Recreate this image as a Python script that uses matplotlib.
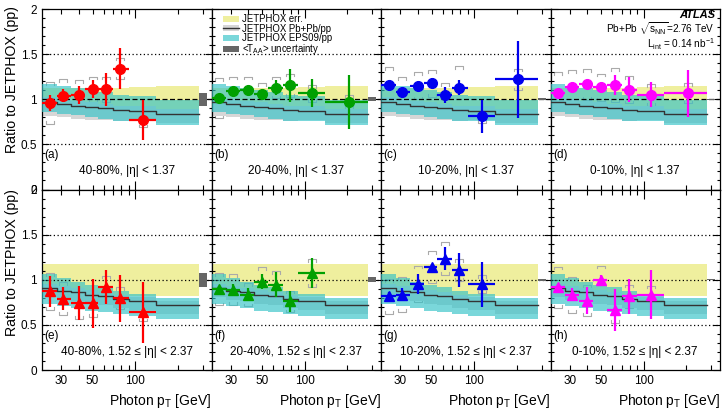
import matplotlib.pyplot as plt
import numpy as np
from matplotlib.patches import Patch
from matplotlib.lines import Line2D
from matplotlib.ticker import FixedLocator, FixedFormatter, MultipleLocator

plt.rcParams['font.family'] = ['Liberation Sans', 'DejaVu Sans']
plt.rcParams['mathtext.fontset'] = 'custom'
plt.rcParams['mathtext.rm'] = 'Liberation Sans'
plt.rcParams['mathtext.it'] = 'Liberation Sans:italic'
plt.rcParams['mathtext.bf'] = 'Liberation Sans:bold'
plt.rcParams['mathtext.default'] = 'regular'

# photon pT bins [GeV] and point positions
pt_edges = [22, 28, 35, 44, 55, 70, 90, 140, 280]
pt_points = [24.9, 31.1, 39.8, 50, 62.5, 78.6, 113, 205]

centralities = ['40-80%', '20-40%', '10-20%', '0-10%']
eta_labels = ['|\u03b7| < 1.37', '1.52 \u2264 |\u03b7| < 2.37']
panel_letters = ['a', 'b', 'c', 'd', 'e', 'f', 'g', 'h']
colors = ['#ff0000', '#00a000', '#0000ee', '#ff00ff']

# ratio data, |eta| < 1.37
ratio_a = [0.96, 1.04, 1.05, 1.11, 1.11, 1.34, 0.77]
stat_a = [0.09, 0.07, 0.10, 0.10, 0.18, 0.23, 0.22]
sys_a = [0.23, 0.18, 0.16, 0.14, 0.14, 0.12, 0.08]

ratio_b = [1.015, 1.09, 1.10, 1.06, 1.13, 1.155, 1.065, 0.97]
stat_b = [0.03, 0.04, 0.04, 0.05, 0.08, 0.185, 0.155, 0.30]
sys_b = [0.22, 0.16, 0.15, 0.12, 0.12, 0.13, 0.09, 0.075]

ratio_c = [1.155, 1.075, 1.15, 1.175, 1.045, 1.13, 0.81, 1.22]
stat_c = [0.03, 0.03, 0.04, 0.055, 0.09, 0.085, 0.18, 0.43]
sys_c = [0.20, 0.17, 0.15, 0.15, 0.13, 0.24, 0.07, 0.12]

ratio_d = [1.07, 1.135, 1.165, 1.135, 1.155, 1.105, 1.05, 1.065]
stat_d = [0.03, 0.03, 0.03, 0.04, 0.11, 0.14, 0.14, 0.26]
sys_d = [0.23, 0.19, 0.17, 0.15, 0.19, 0.15, 0.12, 0.11]

# ratio data, 1.52 <= |eta| < 2.37
ratio_e = [0.87, 0.79, 0.74, 0.74, 0.92, 0.795, 0.64]
stat_e = [0.17, 0.13, 0.19, 0.27, 0.19, 0.26, 0.34]
sys_e = [0.20, 0.18, 0.17, 0.15, 0.125, 0.12, 0.10]

ratio_f = [0.895, 0.89, 0.835, 0.98, 0.945, 0.76, 1.075]
stat_f = [0.04, 0.06, 0.07, 0.08, 0.14, 0.12, 0.17]
sys_f = [0.18, 0.17, 0.13, 0.16, 0.15, 0.12, 0.15]

ratio_g = [0.815, 0.835, 0.955, 1.14, 1.235, 1.105, 0.95]
stat_g = [0.05, 0.07, 0.11, 0.04, 0.13, 0.19, 0.25]
sys_g = [0.19, 0.19, 0.20, 0.18, 0.18, 0.12, 0.10]

ratio_h = [0.915, 0.835, 0.77, 0.995, 0.665, 0.815, 0.835]
stat_h = [0.04, 0.07, 0.15, 0.06, 0.23, 0.19, 0.27]
sys_h = [0.23, 0.20, 0.17, 0.16, 0.14, 0.13, 0.10]

# <T_AA> uncertainty per centrality, per eta row
taa_unc_top = [0.07, 0.02, 0.012, 0.006]
taa_unc_bot = [0.08, 0.025, 0.012, 0.006]

# JETPHOX theory bands per pT bin
jet_err_top = [0.12, 0.12, 0.12, 0.12, 0.12, 0.13, 0.14, 0.15]
pbpb_top = [0.97, 0.95, 0.93, 0.915, 0.90, 0.88, 0.875, 0.84]
pbpb_err_top = [0.16, 0.15, 0.15, 0.14, 0.13, 0.12, 0.11, 0.10]
eps_up_top = [0.20, 0.20, 0.19, 0.19, 0.18, 0.17, 0.16, 0.15]
eps_dn_top = [0.11, 0.11, 0.11, 0.11, 0.12, 0.12, 0.12, 0.12]

jet_err_bot = [0.17, 0.17, 0.17, 0.17, 0.17, 0.18, 0.18, 0.18]
pbpb_bot = [0.905, 0.88, 0.86, 0.835, 0.815, 0.785, 0.76, 0.72]
pbpb_err_bot = [0.10, 0.10, 0.10, 0.10, 0.10, 0.10, 0.10, 0.10]
eps_up_bot = [0.16, 0.14, 0.12, 0.11, 0.10, 0.09, 0.08, 0.08]
eps_dn_bot = [0.17, 0.17, 0.17, 0.18, 0.17, 0.16, 0.16, 0.16]

ratios = [ratio_a, ratio_b, ratio_c, ratio_d, ratio_e, ratio_f, ratio_g, ratio_h]
stats = [stat_a, stat_b, stat_c, stat_d, stat_e, stat_f, stat_g, stat_h]
syss = [sys_a, sys_b, sys_c, sys_d, sys_e, sys_f, sys_g, sys_h]

yellow = '#efef9e'
grayband = '#d6d6d6'
cyan = (0.2, 0.76, 0.78, 0.65)
taa_color = '#666666'

fig, axes = plt.subplots(2, 4, figsize=(7.23, 4.11), dpi=100, sharex='all', sharey='all')
fig.subplots_adjust(left=42/723, right=720/723, top=1-9/411, bottom=1-370/411, wspace=0, hspace=0)

edges = np.array(pt_edges, dtype=float)


def step(vals):
    v = np.asarray(vals, dtype=float)
    return np.append(v, v[-1])


for r in range(2):
    if r == 0:
        jerr, line, lerr, eup, edn, taa = jet_err_top, pbpb_top, pbpb_err_top, eps_up_top, eps_dn_top, taa_unc_top
        marker, ms = 'o', 7
    else:
        jerr, line, lerr, eup, edn, taa = jet_err_bot, pbpb_bot, pbpb_err_bot, eps_up_bot, eps_dn_bot, taa_unc_bot
        marker, ms = '^', 7.5
    ln = np.array(line)
    for c in range(4):
        ax = axes[r, c]
        k = r*4 + c
        ax.fill_between(edges, step(1 - np.array(jerr)), step(1 + np.array(jerr)),
                        step='post', color=yellow, lw=0, zorder=1)
        ax.fill_between(edges, step(ln - np.array(lerr)), step(ln + 0.05),
                        step='post', color=grayband, lw=0, zorder=2)
        ax.fill_between(edges, step(ln - np.array(edn)), step(ln + np.array(eup)),
                        step='post', color=cyan, lw=0, zorder=3)
        ax.step(edges, step(ln), where='post', color='#333333', lw=1.0, zorder=4)

        ax.axhline(1, color='k', lw=0.9, ls=(0, (4, 2)) if r == 0 else (0, (1, 2)), zorder=5)
        ax.axhline(0.5, color='k', lw=0.9, ls=(0, (1, 2)), zorder=5)
        ax.axhline(1.5, color='k', lw=0.9, ls=(0, (1, 2)), zorder=5)

        ax.fill_between([280, 320], 1 - taa[c], 1 + taa[c], color=taa_color, lw=0, zorder=5)

        vals = np.array(ratios[k])
        n = len(vals)
        x = np.array(pt_points[:n])
        xlo = x - edges[:n]
        xhi = edges[1:n+1] - x
        # systematic brackets
        f = 10**(4/142)
        for xi, v, s in zip(x, vals, syss[k]):
            ax.plot([xi/f, xi/f, xi*f, xi*f], [v+s-0.03, v+s, v+s, v+s-0.03],
                    color='#aaaaaa', lw=0.8, zorder=1.5)
            ax.plot([xi/f, xi/f, xi*f, xi*f], [v-s+0.03, v-s, v-s, v-s+0.03],
                    color='#aaaaaa', lw=0.8, zorder=1.5)
        ax.errorbar(x, vals, yerr=stats[k], xerr=[xlo, xhi], fmt=marker, color=colors[c],
                    ms=ms, elinewidth=1.6, capsize=0, zorder=6)

        ax.text(0.015, 0.19, '(%s)' % panel_letters[k], transform=ax.transAxes,
                fontsize=8.5, va='center', ha='left')
        ax.text(0.5, 0.1, '%s, %s' % (centralities[c], eta_labels[r]), transform=ax.transAxes,
                fontsize=8.5, va='center', ha='center')

        ax.set_xscale('log')
        ax.set_xlim(22, 345)
        ax.set_ylim(0, 2)
        ax.xaxis.set_major_locator(FixedLocator([100]))
        ax.xaxis.set_major_formatter(FixedFormatter(['100']))
        ax.xaxis.set_minor_locator(FixedLocator([30, 40, 50, 60, 70, 80, 90, 200, 300]))
        ax.xaxis.set_minor_formatter(FixedFormatter(['30', '', '50', '', '', '', '', '', '']))
        ax.yaxis.set_major_locator(FixedLocator([0, 0.5, 1, 1.5, 2]))
        ax.yaxis.set_major_formatter(FixedFormatter(['0', '0.5', '1', '1.5', '2']))
        ax.yaxis.set_minor_locator(MultipleLocator(0.1))
        ax.tick_params(which='both', direction='in', top=True, right=True, labelsize=8.5, width=0.8)
        ax.tick_params(which='major', length=5)
        ax.tick_params(which='minor', length=2.5)
        ax.tick_params(axis='x', which='major', length=6.5)
        ax.tick_params(axis='x', which='minor', length=3.5, pad=3.5)
        for sp in ax.spines.values():
            sp.set_linewidth(0.9)
        if r == 1:
            ax.set_xlabel(r'Photon p$_{\mathrm{T}}$ [GeV]', loc='right', fontsize=10, labelpad=4)
        else:
            ax.tick_params(axis='x', which='both', labelbottom=False)

for r, ytop in enumerate([1 - 6/411, 1 - 189/411]):
    fig.text(0.016, ytop, 'Ratio to JETPHOX (pp)', rotation=90, va='top', ha='center', fontsize=10.2)

handles = [Patch(facecolor=yellow, edgecolor='none'),
           (Patch(facecolor=grayband, edgecolor='none'), Line2D([], [], color='#333333', lw=1)),
           Patch(facecolor=cyan, edgecolor='none'),
           Patch(facecolor=taa_color, edgecolor='none')]
labels = ['JETPHOX err.', 'JETPHOX Pb+Pb/pp', 'JETPHOX EPS09/pp', '<T$_{AA}$> uncertainty']
axes[0, 1].legend(handles, labels, loc='upper left', bbox_to_anchor=(0.06, 0.975), borderaxespad=0.0,
                  borderpad=0.1, frameon=False, fontsize=6.9, labelspacing=-0.08, handlelength=1.7,
                  handleheight=0.6, handletextpad=0.3)

fig.text(0.989, 1 - 15/411, 'ATLAS', ha='right', va='center', fontsize=8, fontweight='bold', style='italic')
fig.text(0.989, 1 - 33/411, r'Pb+Pb $\sqrt{s_{NN}}$=2.76 TeV', ha='right', va='baseline', fontsize=7.2)
fig.text(0.989, 1 - 48/411, r'L$_{int}$ = 0.14 nb$^{-1}$', ha='right', va='baseline', fontsize=7.2)

fig.savefig('out.png', dpi=100)
